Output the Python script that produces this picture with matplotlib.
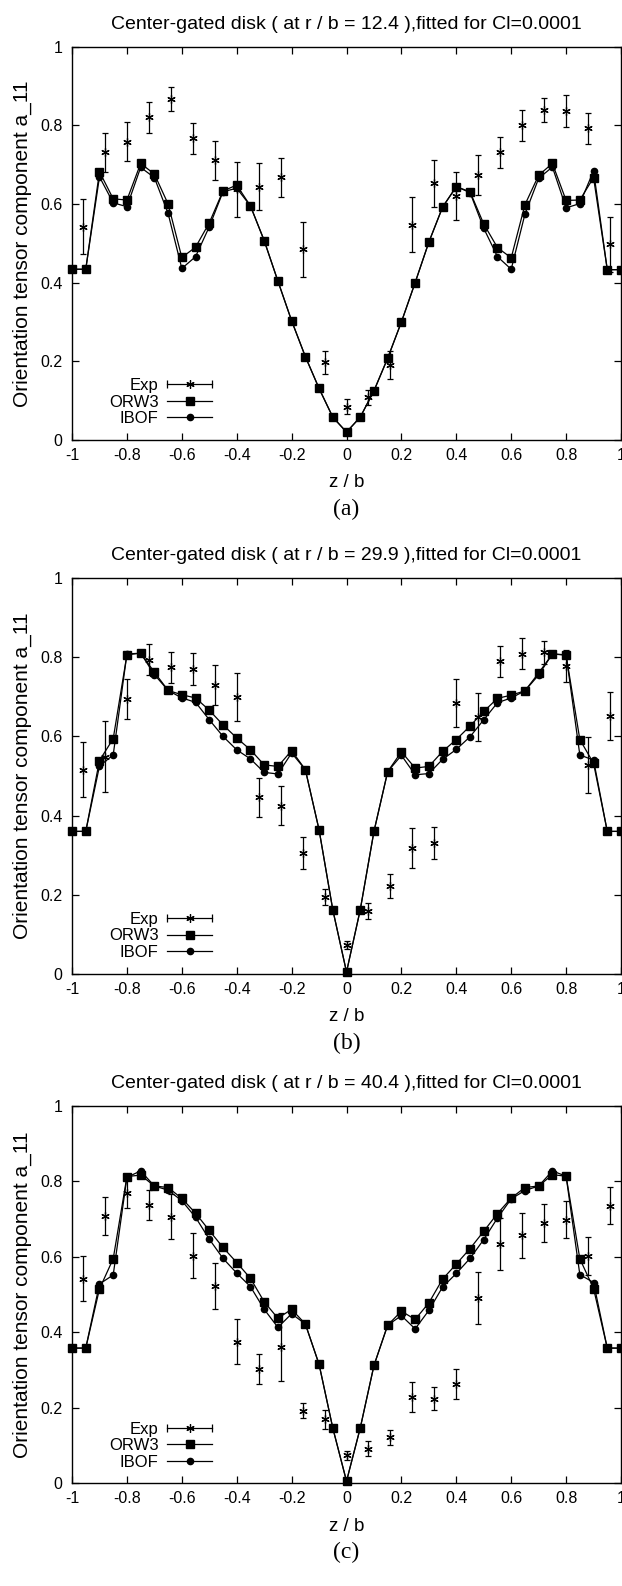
import numpy as np
import matplotlib
matplotlib.use("Agg")
import matplotlib.pyplot as plt
from matplotlib.lines import Line2D
from matplotlib.legend_handler import HandlerLine2D, HandlerTuple
from matplotlib.ticker import FuncFormatter

plt.rcParams['font.family'] = ['Liberation Sans', 'DejaVu Sans']
plt.rcParams['axes.unicode_minus'] = False

# model grid (z/b) and experimental positions
z_model = [-1.0, -0.95, -0.9, -0.85, -0.8, -0.75, -0.7, -0.65, -0.6, -0.55, -0.5,
           -0.45, -0.4, -0.35, -0.3, -0.25, -0.2, -0.15, -0.1, -0.05, 0.0,
           0.05, 0.1, 0.15, 0.2, 0.25, 0.3, 0.35, 0.4, 0.45, 0.5,
           0.55, 0.6, 0.65, 0.7, 0.75, 0.8, 0.85, 0.9, 0.95, 1.0]
z_exp = [-0.96, -0.88, -0.8, -0.72, -0.64, -0.56, -0.48, -0.4, -0.32, -0.24, -0.16, -0.08, 0.0,
         0.08, 0.16, 0.24, 0.32, 0.4, 0.48, 0.56, 0.64, 0.72, 0.8, 0.88, 0.96]

r_over_b = ['12.4', '29.9', '40.4']
captions = ['(a)', '(b)', '(c)']

# (a) r/b = 12.4
orw3_a = [0.434, 0.434, 0.682, 0.613, 0.610, 0.703, 0.676, 0.600, 0.464, 0.490, 0.552,
          0.633, 0.648, 0.595, 0.507, 0.404, 0.303, 0.212, 0.131, 0.058, 0.020,
          0.058, 0.125, 0.208, 0.300, 0.400, 0.503, 0.592, 0.644, 0.631, 0.549,
          0.489, 0.463, 0.598, 0.673, 0.703, 0.609, 0.610, 0.667, 0.433, 0.433]
ibof_a = [0.434, 0.434, 0.669, 0.603, 0.593, 0.693, 0.667, 0.576, 0.436, 0.466, 0.542,
          0.631, 0.640, 0.595, 0.507, 0.404, 0.303, 0.212, 0.131, 0.058, 0.020,
          0.058, 0.125, 0.208, 0.300, 0.400, 0.503, 0.592, 0.644, 0.629, 0.538,
          0.466, 0.434, 0.574, 0.665, 0.694, 0.590, 0.601, 0.684, 0.433, 0.433]
exp_a = [0.542, 0.731, 0.758, 0.820, 0.867, 0.767, 0.711, 0.637, 0.644, 0.668, 0.485, 0.197, 0.085,
         0.108, 0.190, 0.547, 0.653, 0.620, 0.674, 0.731, 0.800, 0.839, 0.836, 0.792, 0.498]
err_a = [0.07, 0.05, 0.05, 0.04, 0.03, 0.04, 0.05, 0.07, 0.06, 0.05, 0.07, 0.03, 0.02,
         0.02, 0.035, 0.07, 0.06, 0.06, 0.05, 0.04, 0.04, 0.03, 0.04, 0.04, 0.07]

# (b) r/b = 29.9
orw3_b = [0.360, 0.360, 0.539, 0.594, 0.806, 0.810, 0.762, 0.716, 0.705, 0.697, 0.666,
          0.629, 0.596, 0.566, 0.528, 0.524, 0.564, 0.516, 0.364, 0.162, 0.005,
          0.162, 0.360, 0.511, 0.561, 0.520, 0.524, 0.562, 0.592, 0.626, 0.663,
          0.696, 0.704, 0.715, 0.760, 0.808, 0.805, 0.592, 0.532, 0.360, 0.360]
ibof_b = [0.360, 0.360, 0.525, 0.553, 0.808, 0.810, 0.756, 0.716, 0.697, 0.686, 0.642,
          0.600, 0.566, 0.543, 0.509, 0.505, 0.558, 0.516, 0.364, 0.162, 0.005,
          0.162, 0.360, 0.511, 0.552, 0.503, 0.506, 0.542, 0.567, 0.599, 0.642,
          0.685, 0.697, 0.715, 0.755, 0.808, 0.806, 0.553, 0.540, 0.360, 0.360]
exp_b = [0.516, 0.549, 0.694, 0.794, 0.774, 0.770, 0.730, 0.699, 0.446, 0.425, 0.305, 0.195, 0.072,
         0.158, 0.223, 0.318, 0.330, 0.684, 0.649, 0.789, 0.809, 0.812, 0.778, 0.528, 0.652]
err_b = [0.07, 0.09, 0.05, 0.04, 0.04, 0.04, 0.05, 0.06, 0.05, 0.05, 0.04, 0.02, 0.01,
         0.02, 0.03, 0.05, 0.04, 0.06, 0.06, 0.04, 0.04, 0.03, 0.04, 0.07, 0.06]

# (c) r/b = 40.4
orw3_c = [0.358, 0.358, 0.515, 0.595, 0.813, 0.817, 0.788, 0.784, 0.755, 0.716, 0.670,
          0.625, 0.585, 0.543, 0.481, 0.437, 0.461, 0.422, 0.315, 0.146, 0.005,
          0.146, 0.312, 0.419, 0.456, 0.434, 0.478, 0.541, 0.581, 0.622, 0.668,
          0.715, 0.756, 0.784, 0.788, 0.818, 0.814, 0.595, 0.516, 0.358, 0.358]
ibof_c = [0.358, 0.358, 0.528, 0.552, 0.811, 0.828, 0.788, 0.777, 0.749, 0.705, 0.647,
          0.596, 0.557, 0.521, 0.461, 0.413, 0.449, 0.422, 0.315, 0.146, 0.005,
          0.146, 0.312, 0.419, 0.444, 0.409, 0.458, 0.520, 0.556, 0.596, 0.646,
          0.703, 0.754, 0.776, 0.788, 0.828, 0.814, 0.553, 0.532, 0.358, 0.358]
exp_c = [0.542, 0.708, 0.769, 0.738, 0.707, 0.603, 0.523, 0.375, 0.303, 0.360, 0.192, 0.169, 0.074,
         0.091, 0.122, 0.229, 0.224, 0.262, 0.491, 0.634, 0.657, 0.689, 0.699, 0.603, 0.736]
err_c = [0.06, 0.05, 0.04, 0.04, 0.06, 0.06, 0.06, 0.06, 0.04, 0.09, 0.02, 0.025, 0.012,
         0.02, 0.02, 0.04, 0.03, 0.04, 0.07, 0.07, 0.06, 0.05, 0.05, 0.05, 0.05]

panels = [(orw3_a, ibof_a, exp_a, err_a),
          (orw3_b, ibof_b, exp_b, err_b),
          (orw3_c, ibof_c, exp_c, err_c)]

# axes rectangles in figure fraction (left, bottom, width, height)
rects = [[0.1158, 0.7226, 0.8826, 0.2480],
         [0.1158, 0.3859, 0.8826, 0.2497],
         [0.1158, 0.0649, 0.8826, 0.2377]]

star = (6, 2, 0)
fmt = FuncFormatter(lambda v, p: '%g' % (round(v, 2) + 0.0))

fig = plt.figure(figsize=(6.22, 15.86), dpi=100)

for i, (orw3, ibof, exp, err) in enumerate(panels):
    ax = fig.add_axes(rects[i])

    ax.errorbar(z_exp, exp, yerr=err, fmt='none', ecolor='k',
                elinewidth=0.9, capsize=2.5, capthick=0.9)
    ax.plot(z_exp, exp, ls='none', marker=star, ms=6, mew=0.9, color='k')
    ax.plot(z_model, orw3, color='k', lw=0.9, marker='s', ms=5.5, clip_on=False)
    ax.plot(z_model, ibof, color='k', lw=0.9, marker='o', ms=4.5, clip_on=False)

    ax.set_xlim(-1, 1)
    ax.set_ylim(0, 1)
    ax.set_xticks(np.round(np.arange(-1, 1.01, 0.2), 2))
    ax.set_yticks(np.round(np.arange(0, 1.01, 0.2), 2))
    ax.xaxis.set_major_formatter(fmt)
    ax.yaxis.set_major_formatter(fmt)
    ax.tick_params(direction='in', top=True, right=True, length=5, width=0.9,
                   labelsize=11.5)
    ax.tick_params(axis='x', pad=6)
    ax.tick_params(axis='y', pad=7)
    for s in ax.spines.values():
        s.set_linewidth(1.0)

    ax.set_title('Center-gated disk ( at r / b = %s ),fitted for Cl=0.0001' % r_over_b[i],
                 fontsize=14, pad=13)
    ax.set_xlabel('z / b', fontsize=13.5, labelpad=8)
    ax.set_ylabel('Orientation tensor component a_11', fontsize=15, labelpad=6)
    ax.annotate(captions[i], xy=(0.5, 0), xycoords='axes fraction',
                xytext=(0, -50), textcoords='offset points',
                ha='center', va='center', fontsize=17, family='Liberation Serif')

    # gnuplot-style key: |--*--| for the data with error bars
    exp_cap = Line2D([], [], color='k', lw=0.9, marker='|', ms=6, mew=0.9)
    exp_pt = Line2D([], [], color='k', ls='none', marker=star, ms=6, mew=0.9)
    h_orw3 = Line2D([], [], color='k', lw=0.9, marker='s', ms=5.5)
    h_ibof = Line2D([], [], color='k', lw=0.9, marker='o', ms=4.5)
    ax.legend([(exp_cap, exp_pt), h_orw3, h_ibof], ['Exp', 'ORW3', 'IBOF'],
              handler_map={exp_cap: HandlerLine2D(numpoints=2, marker_pad=0),
                           tuple: HandlerTuple(ndivide=1, pad=0)},
              loc='lower right', bbox_to_anchor=(0.255, 0.035),
              frameon=False, markerfirst=False, fontsize=12,
              handlelength=2.7, handletextpad=0.5, labelspacing=0.1,
              borderpad=0, borderaxespad=0)

fig.savefig('out.png', dpi=100)
